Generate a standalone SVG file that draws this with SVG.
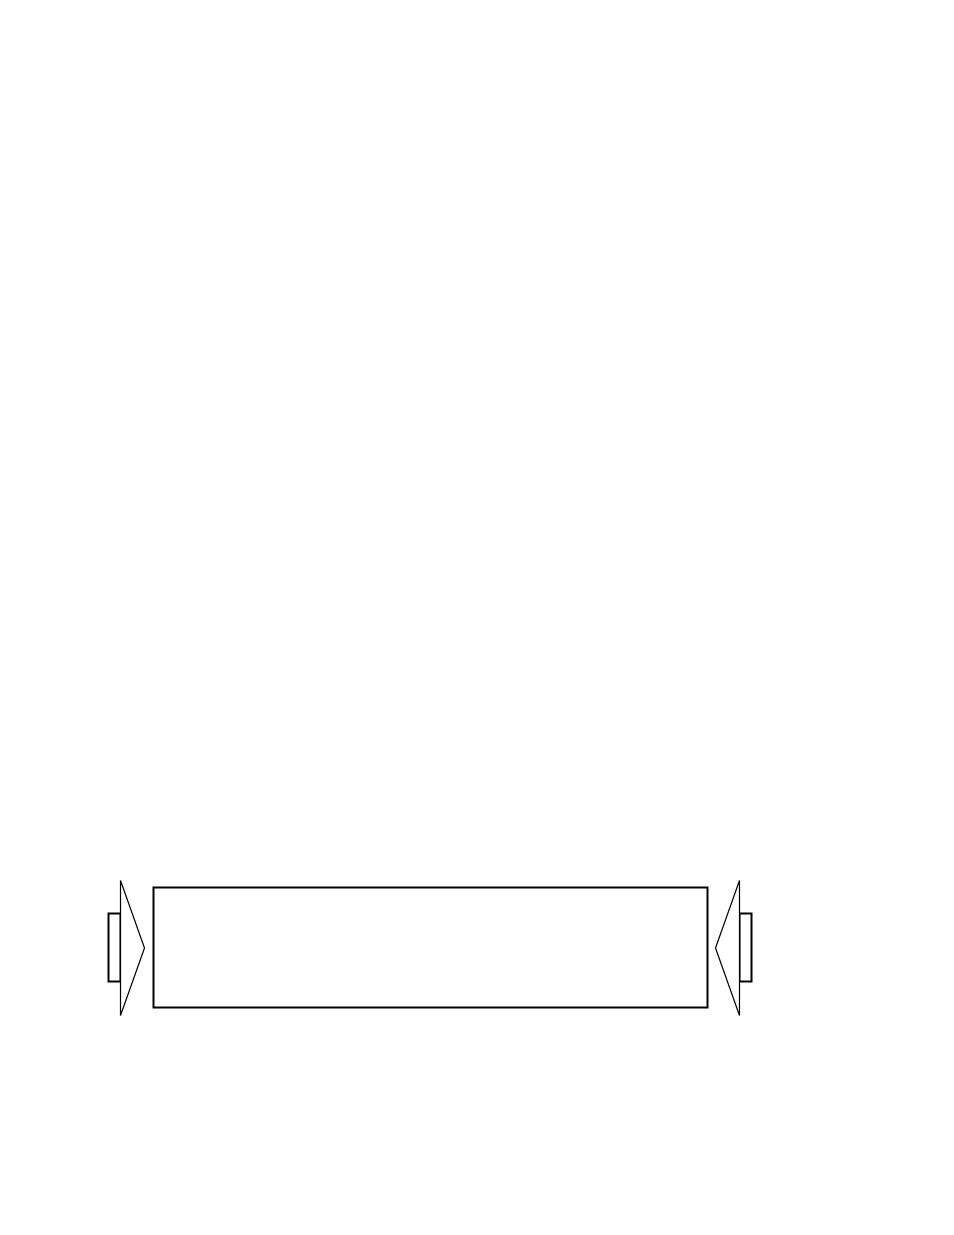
<svg xmlns="http://www.w3.org/2000/svg" width="954" height="1235" viewBox="0 0 954 1235">
<style>
.box{fill:none;stroke:#000;stroke-width:2}
.tab{fill:#fff;stroke:#000;stroke-width:2}
.tri{fill:#fff;stroke:#000;stroke-width:1.2}
</style>
<rect width="954" height="1235" fill="#fff"/>
<g id="left-port">
<rect class="tab" x="108.5" y="913.5" width="12" height="68"/>
<polygon class="tri" points="120.5,880.5 144.5,948 120.5,1015.5"/>
</g>
<g id="main-box">
<rect class="box" x="153.5" y="887.5" width="554" height="120"/>
</g>
<g id="right-port">
<rect class="tab" x="739.5" y="913.5" width="12" height="68"/>
<polygon class="tri" points="739.5,880.5 715.5,948 739.5,1015.5"/>
</g>
<g id="connectors"/>
</svg>
